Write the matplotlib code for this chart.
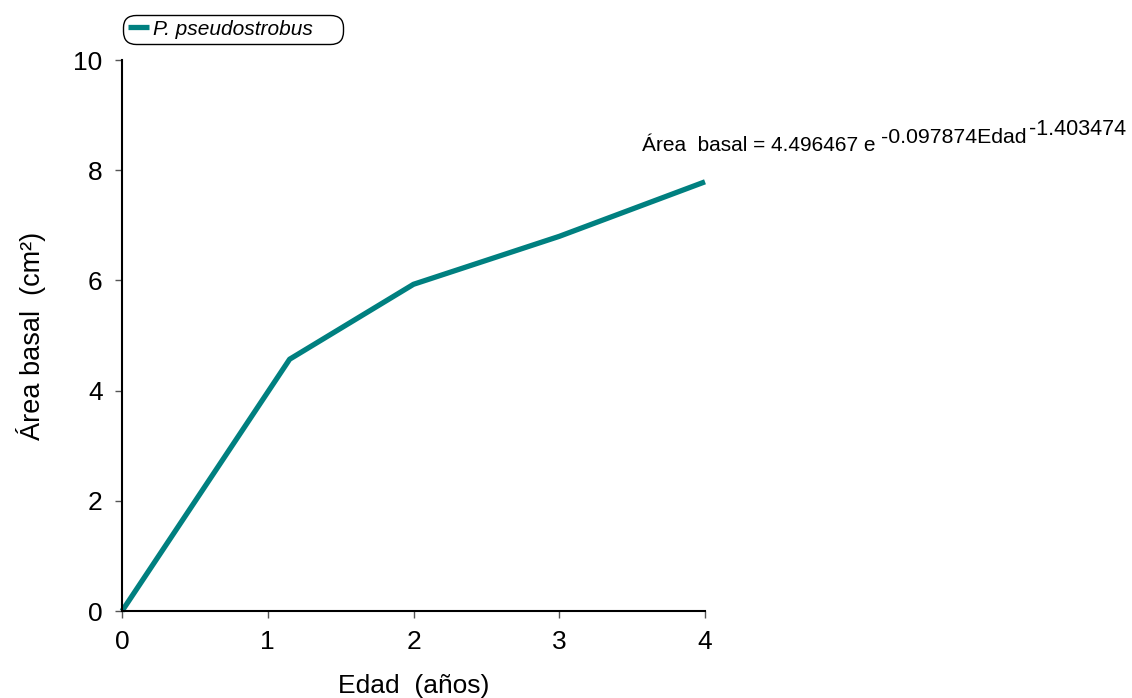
import matplotlib
matplotlib.use('Agg')
import matplotlib.pyplot as plt

plt.rcParams['font.family'] = ['Liberation Sans', 'DejaVu Sans']

# datos
edad = [0, 1.15, 2.0, 3.0, 4.0]
area_basal = [0, 4.57, 5.93, 6.80, 7.79]
xticks = [0, 1, 2, 3, 4]
yticks = [0, 2, 4, 6, 8, 10]

fig = plt.figure(figsize=(11.32, 6.98), dpi=100)
ax = fig.add_axes([0.1078, 0.1246, 0.515, 0.7894])

ax.plot(edad, area_basal, color='#008080', linewidth=3.8,
        solid_capstyle='butt', label='P. pseudostrobus', clip_on=False)

ax.set_xlim(0, 4)
ax.set_ylim(0, 10)
ax.set_xticks(xticks)
ax.set_yticks(yticks)

ax.spines['right'].set_visible(False)
ax.spines['top'].set_visible(False)
ax.spines['left'].set_linewidth(1.5)
ax.spines['bottom'].set_linewidth(1.5)
ax.tick_params(axis='both', labelsize=19, length=5, width=1,
               color='#555555', pad=9)

ax.set_xlabel('Edad  (años)', fontsize=19, labelpad=14)
ax.set_ylabel('Área basal  (cm²)', fontsize=19.5, labelpad=20)

# leyenda arriba a la izquierda
leg = ax.legend(loc='lower left', bbox_to_anchor=(0.1087, 0.937, 0.194, 0.039),
                bbox_transform=fig.transFigure, mode='expand',
                fancybox=True, edgecolor='black', framealpha=1,
                prop={'style': 'italic', 'size': 15}, handlelength=1.0,
                handletextpad=0.2, borderpad=0.25, borderaxespad=0)
leg.get_frame().set_linewidth(1.0)
leg.get_frame().set_boxstyle('round', pad=0, rounding_size=0.6)

# ecuacion
fig.text(642 / 1132, 1 - 151 / 698, 'Área  basal = 4.496467 e',
         fontsize=15, va='baseline', ha='left')
fig.text(881 / 1132, 1 - 143 / 698, '-0.097874Edad',
         fontsize=15.3, va='baseline', ha='left')
fig.text(1029 / 1132, 1 - 135 / 698, '-1.403474',
         fontsize=15.5, va='baseline', ha='left')

fig.savefig('out.png', dpi=100)
